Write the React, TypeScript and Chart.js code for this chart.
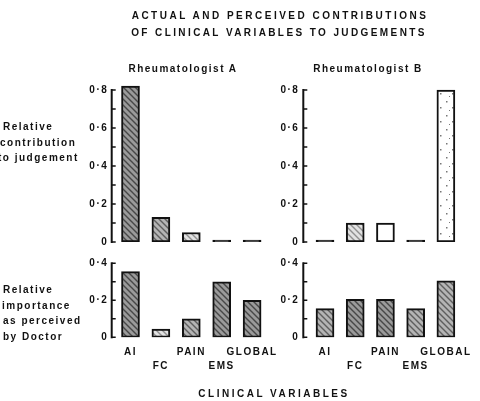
import React, { useEffect, useRef } from 'react';
import { Chart, registerables } from 'chart.js';

Chart.register(...registerables);

// ---------- data ----------
const categories = ['AI', 'FC', 'PAIN', 'EMS', 'GLOBAL'];
const actualA = [0.82, 0.13, 0.05, 0.01, 0.01];
const actualB = [0.01, 0.1, 0.1, 0.01, 0.8];
const perceivedA = [0.355, 0.045, 0.1, 0.3, 0.2];
const perceivedB = [0.155, 0.205, 0.205, 0.155, 0.305];
const actualTicks = [0, 0.2, 0.4, 0.6, 0.8];
const perceivedTicks = [0, 0.2, 0.4];

const FONT = '"Liberation Sans", Arial, Helvetica, sans-serif';
const Y_BOX = 60;
const X_BOX = 45;

type FillKind = 'dense' | 'medium' | 'light' | 'white' | 'speckle' | 'black';

function makeFill(ctx: CanvasRenderingContext2D, kind: FillKind): any {
  if (kind === 'black') return '#111';
  if (kind === 'white') return '#ffffff';
  const c = document.createElement('canvas');
  if (kind === 'speckle') {
    c.width = 12;
    c.height = 14;
    const p = c.getContext('2d')!;
    p.fillStyle = '#ffffff';
    p.fillRect(0, 0, 12, 14);
    p.fillStyle = '#777';
    p.fillRect(2, 3, 1.5, 1.5);
    p.fillRect(8, 9, 1.5, 1.5);
    p.fillRect(5, 12, 1, 1);
    return ctx.createPattern(c, 'repeat');
  }
  const map: Record<string, [string, string]> = {
    dense: ['#9a9a9a', '#474747'],
    medium: ['#b4b4b4', '#5e5e5e'],
    light: ['#e2e2e2', '#909090'],
  };
  const [base, line] = map[kind];
  c.width = 6;
  c.height = 6;
  const p = c.getContext('2d')!;
  p.fillStyle = base;
  p.fillRect(0, 0, 6, 6);
  p.strokeStyle = line;
  p.lineWidth = 1.4;
  p.beginPath();
  p.moveTo(0, 0);
  p.lineTo(6, 6);
  p.moveTo(-3, 3);
  p.lineTo(3, 9);
  p.moveTo(3, -3);
  p.lineTo(9, 3);
  p.stroke();
  return ctx.createPattern(c, 'repeat');
}

const axisPlugin = {
  id: 'axisDraw',
  beforeDraw(chart: any) {
    (chart.ctx as any).letterSpacing = '1.5px';
  },
  afterDraw(chart: any, _args: any, opts: any) {
    const { ctx, chartArea, scales } = chart;
    const y = scales.y;
    const x = chartArea.left - opts.offset;
    ctx.save();
    ctx.strokeStyle = '#111';
    ctx.lineWidth = 2;
    ctx.beginPath();
    ctx.moveTo(x, y.getPixelForValue(0) + 1);
    ctx.lineTo(x, y.getPixelForValue(opts.axisMax) - 1);
    ctx.stroke();
    ctx.lineWidth = 1.4;
    ctx.beginPath();
    const n = Math.round(opts.axisMax / 0.1);
    for (let i = 0; i <= n; i++) {
      const py = y.getPixelForValue(i * 0.1);
      ctx.moveTo(x, py);
      ctx.lineTo(x + 4, py);
    }
    ctx.stroke();
    ctx.restore();
  },
};

type Panel = {
  values: number[];
  fills: FillKind[];
  left: number;
  right: number;
  top: number;
  bottom: number;
  max: number;
  ticks: number[];
  axisMax: number;
  offset: number;
  tickPad: number;
  showX: boolean;
};

const panels: Panel[] = [
  {
    values: actualA,
    fills: ['dense', 'medium', 'light', 'black', 'black'],
    left: 115.3, right: 267.3, top: 82.4, bottom: 242, max: 0.84,
    ticks: actualTicks, axisMax: 0.8, offset: 3.6, tickPad: 7, showX: false,
  },
  {
    values: actualB,
    fills: ['black', 'light', 'white', 'black', 'speckle'],
    left: 309.9, right: 461, top: 82.4, bottom: 242, max: 0.84,
    ticks: actualTicks, axisMax: 0.8, offset: 6.6, tickPad: 10.5, showX: false,
  },
  {
    values: perceivedA,
    fills: ['dense', 'light', 'medium', 'dense', 'dense'],
    left: 115.3, right: 267.3, top: 263.3, bottom: 337.3, max: 0.4,
    ticks: perceivedTicks, axisMax: 0.4, offset: 3.6, tickPad: 7, showX: true,
  },
  {
    values: perceivedB,
    fills: ['medium', 'dense', 'dense', 'medium', 'medium'],
    left: 309.9, right: 461, top: 263.3, bottom: 337.3, max: 0.4,
    ticks: perceivedTicks, axisMax: 0.4, offset: 6.6, tickPad: 10.5, showX: true,
  },
];

const fmt = (v: number) => (v === 0 ? '0' : '0·' + Math.round(v * 10));

function PanelChart({ panel }: { panel: Panel }) {
  const ref = useRef<HTMLCanvasElement>(null);
  useEffect(() => {
    const canvas = ref.current!;
    const ctx = canvas.getContext('2d')!;
    const font = { family: FONT, size: 10, weight: 'bold' as const, lineHeight: 1.4 };
    const xBox = panel.showX ? X_BOX : 0;
    const chart = new Chart(canvas, {
      type: 'bar',
      data: {
        labels: categories,
        datasets: [
          {
            data: panel.values,
            backgroundColor: panel.fills.map((f) => makeFill(ctx, f)),
            borderColor: '#111',
            borderWidth: 2,
            borderSkipped: false,
            barThickness: 18,
          } as any,
        ],
      },
      options: {
        responsive: false,
        animation: false,
        events: [],
        layout: {
          padding: {
            left: panel.left - Y_BOX,
            right: 480 - panel.right,
            top: panel.top,
            bottom: 401 - panel.bottom - xBox,
          },
        },
        plugins: {
          legend: { display: false },
          tooltip: { enabled: false },
          axisDraw: { offset: panel.offset, axisMax: panel.axisMax },
        } as any,
        scales: {
          x: {
            display: panel.showX,
            grid: { display: false, drawTicks: false },
            border: { display: false },
            ticks: {
              autoSkip: false,
              maxRotation: 0,
              minRotation: 0,
              padding: 8,
              color: '#111',
              font,
              callback: (_v: any, i: number) => (i % 2 === 1 ? ['', categories[i]] : categories[i]),
            },
            afterFit: (s: any) => {
              s.height = xBox;
            },
          },
          y: {
            min: 0,
            max: panel.max,
            grid: { display: false, drawTicks: false },
            border: { display: false },
            ticks: {
              padding: panel.tickPad,
              color: '#111',
              font,
              callback: (v: any) => fmt(Number(v)),
            },
            afterBuildTicks: (s: any) => {
              s.ticks = panel.ticks.map((v) => ({ value: v }));
            },
            afterFit: (s: any) => {
              s.width = Y_BOX;
            },
          },
        },
      } as any,
      plugins: [axisPlugin],
    });
    return () => chart.destroy();
  }, [panel]);
  return (
    <canvas
      ref={ref}
      width={480}
      height={401}
      style={{ position: 'absolute', left: 0, top: 0, width: 480, height: 401 }}
    />
  );
}

const txt: React.CSSProperties = {
  position: 'absolute',
  fontFamily: FONT,
  fontWeight: 'bold',
  fontSize: 10,
  lineHeight: '12px',
  color: '#111',
  whiteSpace: 'nowrap',
  letterSpacing: '1.5px',
};

function Centered({ cx, top, text, spacing }: { cx: number; top: number; text: string; spacing?: number }) {
  return (
    <div
      style={{
        ...txt,
        left: cx - 200,
        width: 400,
        top,
        textAlign: 'center',
        letterSpacing: (spacing ?? 1.5) + 'px',
      }}
    >
      {text}
    </div>
  );
}

function Left({ x, top, text }: { x: number; top: number; text: string }) {
  return <div style={{ ...txt, left: x, top }}>{text}</div>;
}

export default function App() {
  useEffect(() => {
    document.body.style.margin = '0';
  }, []);
  return (
    <div style={{ position: 'relative', width: 480, height: 401, background: '#fff', overflow: 'hidden' }}>
      {panels.map((p, i) => (
        <PanelChart key={i} panel={p} />
      ))}
      <Centered cx={280} top={9.9} text="ACTUAL AND PERCEIVED CONTRIBUTIONS" spacing={2.5} />
      <Centered cx={279} top={27.4} text="OF CLINICAL VARIABLES TO JUDGEMENTS" spacing={2.4} />
      <Centered cx={183} top={63} text="Rheumatologist A" />
      <Centered cx={368} top={63} text="Rheumatologist B" />
      <Left x={3} top={121} text="Relative" />
      <Left x={0} top={137} text="contribution" />
      <Left x={-2} top={152} text="to judgement" />
      <Left x={3} top={284} text="Relative" />
      <Left x={2} top={299.5} text="importance" />
      <Left x={3} top={315} text="as perceived" />
      <Left x={3} top={330.5} text="by Doctor" />
      <Centered cx={274} top={387.9} text="CLINICAL VARIABLES" spacing={2.5} />
    </div>
  );
}
